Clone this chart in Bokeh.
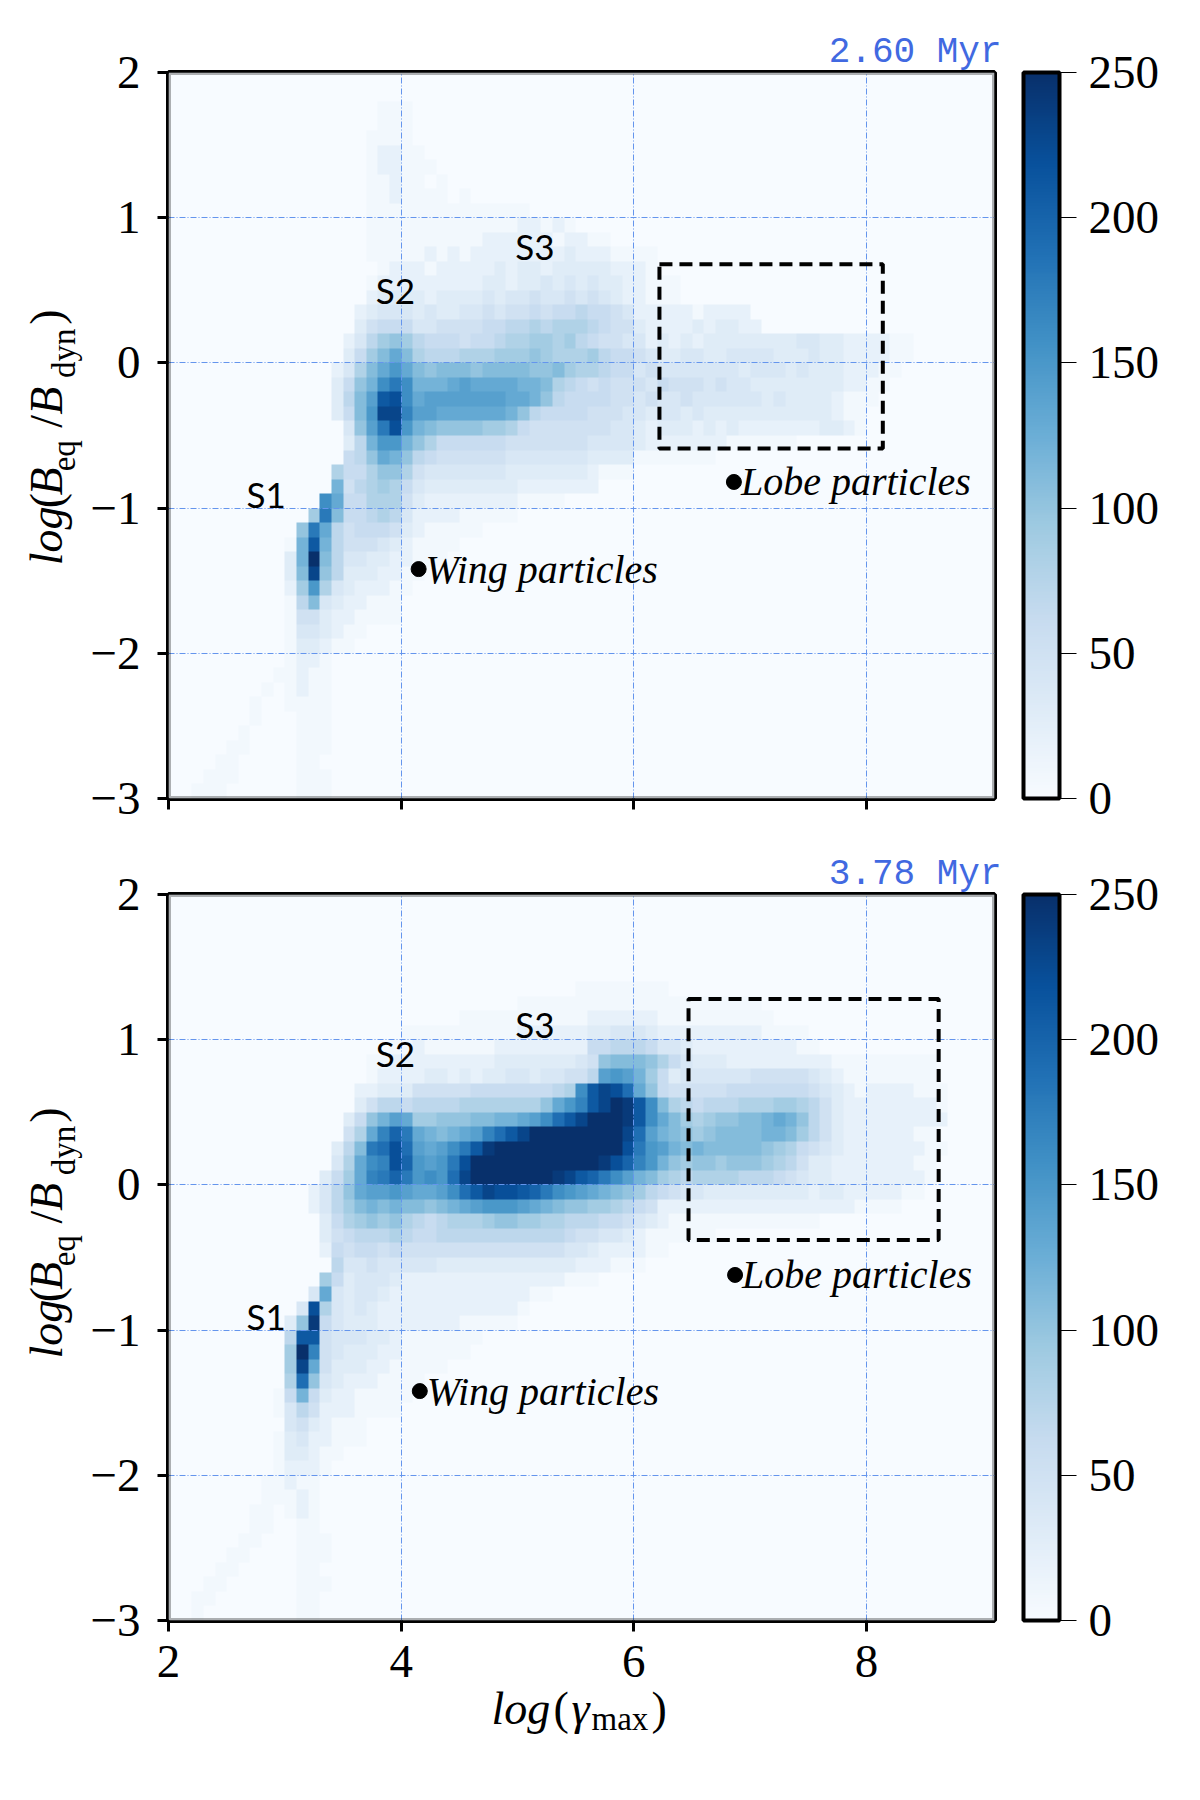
from math import pi

import numpy as np
from bokeh.embed import file_html
from bokeh.layouts import column, row
from bokeh.models import BoxAnnotation, ColorBar, FixedTicker, Label, LinearColorMapper, Title
from bokeh.palettes import Blues256
from bokeh.plotting import figure
from bokeh.resources import INLINE

# Counts in cells of 0.1 x 0.1, top row first.
# One character per cell, the count is looked up in level_counts, missing cells are 0.
LEVELS = "0123456789abcdefghijklmnop"
level_counts = [0, 6, 20, 30, 40, 50, 60, 70, 80, 90, 100, 110, 120, 130, 140, 150, 160, 170, 180, 190, 200, 210, 220, 230, 240, 250]
X_MIN, X_MAX, Y_MIN, Y_MAX = 2.0, 9.1, -3.0, 2.0

rows_260 = [
    "",
    "",
    "0000000000 0000000011 1",
    "0000000000 0000000011 1",
    "0000000000 0000000111 1",
    "0000000000 0000000122 11",
    "0000000000 0000000122 111",
    "0000000000 0000000112 1101",
    "0000000000 0000000112 11110100",
    "0000000000 0000000111 1111111111 1",
    "0000000000 0000000111 1111111111 2212100",
    "0000000000 0000000111 1111111222 2221221100",
    "0000000000 0000000111 1121212222 2222322211 11",
    "0000000000 0000000012 2212222232 3323333322 21",
    "0000000000 0000000122 2222222332 3343434332 2111",
    "0000000000 0000000233 3323333434 4544545432 2111",
    "0000000000 0000002344 4343344545 5656676654 2222212222",
    "0000000000 0000003566 6445555667 7878887655 3222232332 2",
    "0000000000 000002479a 9766656678 8998976554 4232323333 3333443322 2211",
    "0000000000 0000036 9bd b877788899 9a98889766 5433443344 4433343322 2211",
    "0000000000 0000248bdf dbabbbabbb baab988766 4544444443 4443433322 211",
    "0000000000 000036acgi gcccdedddd ccb8765655 5465554544 3333333322 11",
    "0000000000 000037belm gdeeeeeeed dca7666655 4544544444 4343333211 1",
    "0000000000 000036bfnn heeddddddc a766665554 4344343333 3333333211",
    "0000000000 000004aeim fcbaaaa998 6555555544 3233323232 2222223321",
    "0000000000 0000037cff ca86666665 5555554444 3222222211 1111",
    "0000000000 0000067adc a765555554 4444443333 1111111",
    "0000000000 00008668aa 8544444443 3333332111",
    "0000000000 0000c57898 6433333333 2222222",
    "0000000000 000gd66888 5322222222 1111",
    "0000000000 009ib66787 4222211111",
    "0000000000 0aid756665 3211111",
    "0000000000 1clc755543 21111",
    "0000000000 3cpb744332 2111",
    "0000000000 3bna733322 11",
    "0000000000 29f8432221 1",
    "0000000000 17b4322111",
    "0000000000 1553221111",
    "0000000000 1443211",
    "0000000000 133211",
    "0000000000 1221",
    "0000000001 1211",
    "0000000010 1211",
    "0000000100 1111",
    "0000000100 0111",
    "0000001000 0111",
    "0000011000 0111",
    "0000110000 0110",
    "0001110000 0111",
    "0011100000 0111",
]

rows_378 = [
    "",
    "",
    "",
    "",
    "",
    "",
    "0000000000 0000000000 0000000000 0000011111 111",
    "0000000000 0000000000 0000000000 1111111111 11111111111",
    "0000000000 0000000000 0000011111 1111112222 2211111111 11",
    "0000000000 0000000000 1111111111 2222223344 4322222222 21111",
    "0000000000 0000000001 1211111122 2222226677 7644322222 222211",
    "0000000000 0000000112 2222222233 333334 5abbb a864333222 2222221111 11111",
    "0000000000 0000000122 2233232334 4344557efe c963444444 5555543211 111111",
    "0000000000 0000002233 3555556666 6667 8gl nmj da65555566 6666654321 2222111",
    "0000000000 0000003577 6777788888 88adfhlnpo lgb8767778 8899875322 2222221",
    "0000000000 0000036ace d99aaabbcc degjlnpppo lgdb989aab bcdca75322 2222222",
    "0000000000 0000058dhk idcbcdehjl nppppppppn jecba9abbb bccb975322 222211",
    "0000000000 000037bijm jedegilopp pppppppppm ifecbcbbbb ba98654322 2222211",
    "0000000000 000048dghm kfefimpppp pppppppomk hfca9aa9aa a987533222 222211",
    "0000000000 000369dhik ifgfjnpppp ppponlkige cb98788887 7765433222 222221",
    "0000000000 00247adeef eddegjlnmm lkigfedcba 9765443333 3333323322 22211",
    "0000000000 002479bcbc bbabcdefff edcbaa9987 6522222222 2222222221 111",
    "0000000000 0003689a9a 87678889aa 9988777665 4321111111 111111",
    "0000000000 0003567778 7667777777 7777655443 2111111",
    "0000000000 0002656656 5555555555 5555443222 211",
    "0000000000 0000744544 4443333333 3333322211 1",
    "0000000000 0009634443 2222222222 2222111",
    "0000000000 004d434432 2222222222 211",
    "0000000000 04m8434322 2222222222 1",
    "0000000000 3ao6433322 2222211111",
    "0000000000 7ll5444332 1111111",
    "0000000000 9ph5433322 111111",
    "0000000000 9nd5333221 1111",
    "0000000000 8ja4322211 11",
    "0000000001 6c63221111 1",
    "0000000001 4752221111",
    "0000000000 4532111",
    "0000000001 3422111",
    "0000000001 33211",
    "0000000001 2221",
    "0000000011 211",
    "0000000011 121",
    "0000000110 121",
    "0000000110 011",
    "0000001100 0111",
    "0000011000 0111",
    "0000110000 011",
    "0001100000 0111",
    "0011000000 011",
    "0010000000 011",
]

times = ["2.60 Myr", "3.78 Myr"]
x_ticks = [2, 4, 6, 8]
y_ticks = [-3, -2, -1, 0, 1, 2]
y_tick_labels = {-3: "\u22123", -2: "\u22122", -1: "\u22121", 0: "0", 1: "1", 2: "2"}
bar_ticks = [0, 50, 100, 150, 200, 250]

box_left = [6.22, 6.47]
box_right = [8.14, 8.62]
box_bottom = [-0.59, -0.38]
box_top = [0.68, 1.28]

wing_x = [4.15, 4.16]
wing_y = [-1.42, -1.42]
lobe_x = [6.86, 6.87]
lobe_y = [-0.82, -0.62]

s_names = ["S1", "S2", "S3"]
s_x = [2.84, 3.95, 5.15]
s_y = [[-0.90, 0.50, 0.805], [-0.90, 0.91, 1.105]]

SERIF = "Liberation Serif"
TICK_SIZE = "47px"
mapper = LinearColorMapper(palette=Blues256[::-1], low=0, high=250)


def decode(rows):
    cells = [[level_counts[LEVELS.index(c)] for c in r.replace(" ", "").ljust(71, "0")] for r in rows]
    return np.array(cells[::-1], dtype=float)


def title_strip(width, height, **kwargs):
    # annotations are clipped to a frame, so the axis titles get a frame of their own
    s = figure(
        width=width,
        height=height,
        x_range=(0, width),
        y_range=(height, 0),
        x_axis_type=None,
        y_axis_type=None,
        min_border=0,
        outline_line_color=None,
        output_backend="svg",
        toolbar_location=None,
        **kwargs,
    )
    s.grid.visible = False
    return s


def make_panel(rows, i, top_border, bottom_border, show_x):
    p = figure(
        frame_width=826,
        frame_height=726,
        x_range=(X_MIN, X_MAX),
        y_range=(Y_MIN, Y_MAX),
        output_backend="svg",
        toolbar_location=None,
        min_border_left=85,
        min_border_right=10,
        min_border_top=top_border,
        min_border_bottom=bottom_border,
    )
    p.image(
        image=[decode(rows)],
        x=X_MIN,
        y=Y_MIN,
        dw=X_MAX - X_MIN,
        dh=Y_MAX - Y_MIN,
        color_mapper=mapper,
        level="image",
    )

    p.xaxis.ticker = FixedTicker(ticks=x_ticks)
    p.yaxis.ticker = FixedTicker(ticks=y_ticks)
    p.yaxis.major_label_overrides = y_tick_labels
    if not show_x:
        p.xaxis.major_label_overrides = {t: "" for t in x_ticks}
    for ax in [p.xaxis, p.yaxis]:
        ax.axis_line_color = None
        ax.major_tick_line_color = "black"
        ax.major_tick_line_width = 3
        ax.major_tick_in = 0
        ax.major_tick_out = 11
        ax.minor_tick_line_color = None
        ax.major_label_text_font = SERIF
        ax.major_label_text_font_size = TICK_SIZE
        ax.major_label_text_color = "black"
    p.yaxis.major_label_standoff = 17
    p.xaxis.major_label_standoff = 14

    p.xgrid.ticker = FixedTicker(ticks=x_ticks[1:])
    p.ygrid.ticker = FixedTicker(ticks=y_ticks[1:-1])
    p.grid.grid_line_color = "#6495ed"
    p.grid.grid_line_width = 1
    p.grid.grid_line_dash = "6 2 1 2"
    p.outline_line_color = "black"
    p.outline_line_width = 5
    # the image covers the inner half of the outline
    p.add_layout(
        BoxAnnotation(
            left=X_MIN,
            right=X_MAX,
            bottom=Y_MIN,
            top=Y_MAX,
            fill_color=None,
            line_color="black",
            line_width=5,
        )
    )

    p.quad(
        left=[box_left[i]],
        right=[box_right[i]],
        bottom=[box_bottom[i]],
        top=[box_top[i]],
        fill_color=None,
        line_color="black",
        line_width=4,
        line_dash="13 7",
    )
    p.scatter(x=[wing_x[i], lobe_x[i]], y=[wing_y[i], lobe_y[i]], size=15, color="black")

    for name, sx, sy in zip(s_names, s_x, s_y[i]):
        p.add_layout(
            Label(
                x=sx,
                y=sy,
                text=name,
                text_font="Lato",
                text_font_size="35px",
                text_align="center",
                text_baseline="middle",
                text_color="black",
            )
        )
    for text, tx, ty in [("Wing particles", wing_x[i] + 0.06, wing_y[i]), ("Lobe particles", lobe_x[i] + 0.06, lobe_y[i])]:
        p.add_layout(
            Label(
                x=tx,
                y=ty,
                text=text,
                text_font=SERIF,
                text_font_size="40px",
                text_font_style="italic",
                text_align="left",
                text_baseline="alphabetic",
                text_color="black",
            )
        )
    p.add_layout(
        Title(
            text=times[i],
            align="right",
            offset=-7,
            standoff=0,
            text_font="Liberation Mono",
            text_font_size="36px",
            text_font_style="normal",
            text_color="#4169e1",
        ),
        "above",
    )

    bar = ColorBar(
        color_mapper=mapper,
        ticker=FixedTicker(ticks=bar_ticks),
        width=36,
        height=726,
        padding=0,
        margin=14,
        location=(29, 0),
        bar_line_color="black",
        bar_line_width=4,
        major_tick_line_color="black",
        major_tick_line_width=1.2,
        major_tick_in=0,
        major_tick_out=17,
        minor_tick_line_color=None,
        label_standoff=12,
        major_label_text_font=SERIF,
        major_label_text_font_size=TICK_SIZE,
        major_label_text_color="black",
    )
    p.add_layout(bar, "right")
    return p


def y_title(height, top):
    s = title_strip(83, height)
    for text, py, size, style, px in [
        ("log", 538, "46px", "italic", 46),
        ("(", 497, "46px", "normal", 46),
        ("B", 475, "46px", "italic", 46),
        ("eq", 445, "33px", "normal", 63),
        ("/", 405, "46px", "normal", 46),
        ("B", 381, "46px", "italic", 46),
        ("dyn", 326, "33px", "normal", 63),
        (")", 284, "46px", "normal", 46),
    ]:
        s.add_layout(
            Label(
                x=px,
                y=py + top,
                text=text,
                angle=pi / 2,
                text_font=SERIF,
                text_font_size=size,
                text_font_style=style,
                text_align="center",
                text_baseline="middle",
                text_color="black",
            )
        )
    return s


p1 = make_panel(rows_260, 0, 72, 45, False)
p2 = make_panel(rows_378, 1, 51, 85, True)
s1 = y_title(843, 0)
s2 = y_title(862, -22)

# sits 25px up over the bottom of the lower panel, see through
s3 = title_strip(1000, 70, margin=(-25, 0, 0, 0), background_fill_color=None, border_fill_color=None)
for text, px, py, size, style in [
    ("log", 491, 28, "46px", "italic"),
    ("(", 553, 28, "46px", "normal"),
    ("\u03b3", 571, 28, "46px", "italic"),
    ("max", 591, 38, "33px", "normal"),
    (")", 651, 28, "46px", "normal"),
]:
    s3.add_layout(
        Label(
            x=px,
            y=py,
            text=text,
            text_font=SERIF,
            text_font_size=size,
            text_font_style=style,
            text_align="left",
            text_baseline="alphabetic",
            text_color="black",
        )
    )

page = column(row(s1, p1, spacing=0), row(s2, p2, spacing=0), s3, spacing=0)
open("out.html", "w").write(file_html(page, INLINE))
